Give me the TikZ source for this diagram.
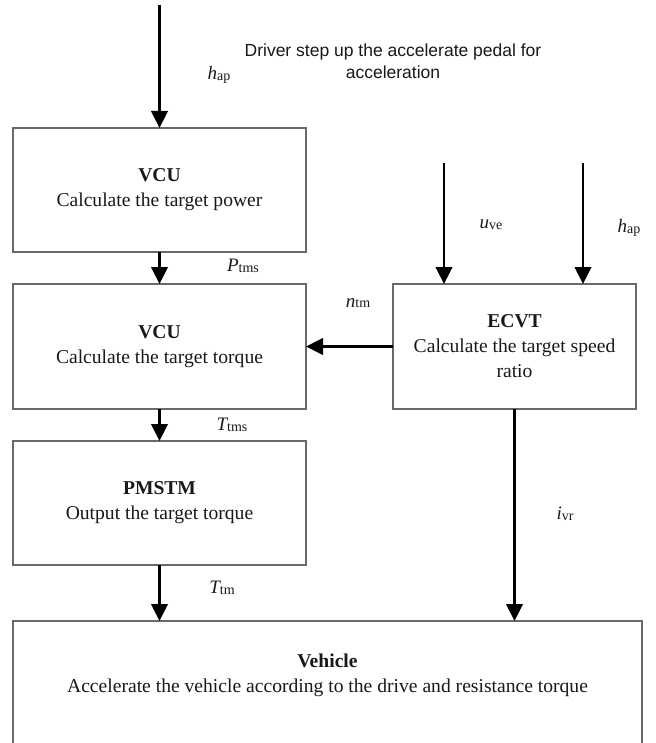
\documentclass[tikz,border=0pt]{standalone}
\usepackage{fontspec}
\setmainfont{Liberation Serif}
\newfontfamily\drvfont{Liberation Sans}
\usetikzlibrary{arrows.meta}

\definecolor{boxline}{RGB}{105,105,105}
\definecolor{ink}{RGB}{25,25,25}

% variable with an upright index set on the same baseline
\newcommand{\flowvar}[2]{{\fontsize{19}{19}\selectfont\itshape #1}{\fontsize{14}{14}\selectfont\raisebox{-0.8pt}{#2}}}

\tikzset{
  blockbox/.style={draw=boxline, line width=1.1pt, fill=white, inner sep=0pt, outer sep=0pt,
    align=center, text=ink, font=\fontsize{19.6}{25}\selectfont},
  flowarrow/.style={line width=2.3pt, draw=black, -{Triangle[length=17pt,width=16.5pt]}},
  varlabel/.style={inner sep=0pt, text=ink, anchor=center}
}

\begin{document}
\begin{tikzpicture}[x=1pt, y=-1pt]
  \clip (0,0) rectangle (655,743);
  \fill[white] (0,0) rectangle (655,743);

  % processing blocks
  \node[blockbox, minimum width=293pt, minimum height=124pt] (vcuP) at (159.5,190)
    {\textbf{VCU}\\Calculate the target power};
  \node[blockbox, minimum width=293pt, minimum height=125pt] (vcuT) at (159.5,346.5)
    {\textbf{VCU}\\Calculate the target torque};
  \node[blockbox, minimum width=293pt, minimum height=124pt] (pmstm) at (159.5,503)
    {\textbf{PMSTM}\\Output the target torque};
  \node[blockbox, minimum width=243pt, minimum height=125pt] (ecvt) at (514.5,346.5)
    {\textbf{ECVT}\\Calculate the target speed\\ratio};
  \node[blockbox, minimum width=629pt, minimum height=150pt, anchor=north] (vehicle) at (327.5,621) {};
  \node[inner sep=0pt, align=center, text=ink, font=\fontsize{19.6}{25}\selectfont] (vehtext) at (327.5,675)
    {\textbf{Vehicle}\\Accelerate the vehicle according to the drive and resistance torque};

  % driver input
  \node[inner sep=0pt, align=center, text=ink, font=\drvfont\fontsize{17.5}{22.5}\selectfont] (driver) at (393,61)
    {Driver step up the accelerate pedal for\\acceleration};

  % free ends of the input arrows
  \coordinate (pedal) at (159.5,5);
  \coordinate (speedin) at (444,163);
  \coordinate (pedalB) at (583,163);

  % signal flow
  \draw[flowarrow] (pedal) -- (vcuP.north);
  \draw[flowarrow] (vcuP.south) -- (vcuT.north);
  \draw[flowarrow] (vcuT.south) -- (pmstm.north);
  \draw[flowarrow] (pmstm.south) -- (pmstm.south |- vehicle.north);
  \draw[flowarrow] (speedin) -- (speedin |- ecvt.north);
  \draw[flowarrow] (pedalB) -- (pedalB |- ecvt.north);
  \draw[flowarrow] (ecvt.west) -- (vcuT.east);
  \draw[flowarrow] (ecvt.south) -- (ecvt.south |- vehicle.north);

  % signal names
  \node[varlabel] (lhap) at (219,75) {\flowvar{h}{ap}};
  \node[varlabel] (lptms) at (243,266) {\flowvar{P}{tms}};
  \node[varlabel] (lttms) at (232,425) {\flowvar{T}{tms}};
  \node[varlabel] (lttm) at (222,588) {\flowvar{T}{tm}};
  \node[varlabel] (luve) at (491,225) {\flowvar{u}{ve}};
  \node[varlabel] (lhapB) at (629,228) {\flowvar{h}{ap}};
  \node[varlabel] (lntm) at (358,303) {\flowvar{n}{tm}};
  \node[varlabel] (livr) at (565,514) {\flowvar{i}{vr}};
\end{tikzpicture}
\end{document}
